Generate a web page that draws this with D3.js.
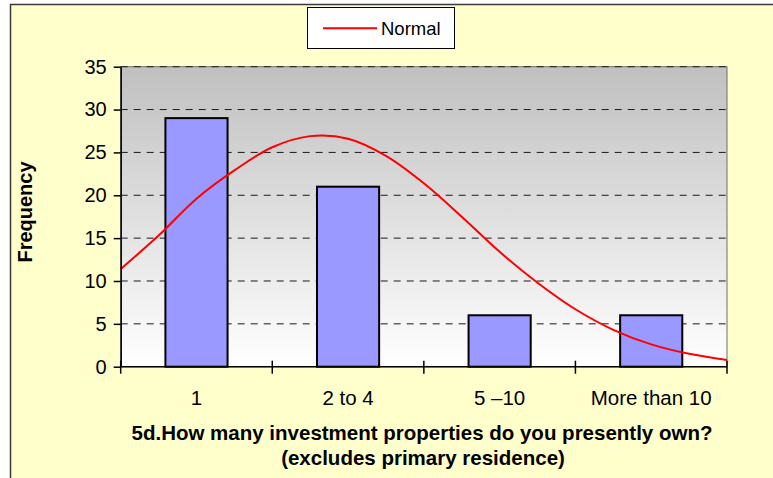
<!DOCTYPE html>
<html>
<head>
<meta charset="utf-8">
<script src="https://cdn.jsdelivr.net/npm/d3@7"></script>
<style>
  html, body { margin: 0; padding: 0; background: #ffffff; }
  svg { display: block; font-family: "Liberation Sans", Arial, sans-serif; }
</style>
</head>
<body>
<svg id="chart" width="773" height="478"></svg>
<script>
// Survey answers and how many respondents gave each
const categories = ["1", "2 to 4", "5 \u201310", "More than 10"];
const frequencies = [29, 21, 6, 6];

// Fitted normal curve, sampled along the category axis (1 = first category centre)
const normalPos = [0.5, 0.75, 1.0, 1.25, 1.5, 1.75, 2.0, 2.25, 2.5,
                   2.75, 3.0, 3.25, 3.5, 3.75, 4.0, 4.25, 4.5];
const normalVals = [11.4, 15.3, 19.6, 22.9, 25.6, 26.9, 26.6, 24.6, 21.4,
                    17.5, 13.4, 9.8, 6.7, 4.3, 2.6, 1.5, 0.78];

const yTicks = [0, 5, 10, 15, 20, 25, 30, 35];

const svg = d3.select("#chart");

// Chart area frame
svg.append("rect")
  .attr("x", 10.5).attr("y", 4.5)
  .attr("width", 800).attr("height", 500)
  .attr("fill", "#FFFFCC")
  .attr("stroke", "#3a3a3a").attr("stroke-width", 1.5);

const plot = { left: 120.7, right: 727, top: 66.7, bottom: 366.7 };

const x = d3.scaleBand()
  .domain(categories)
  .range([plot.left, plot.right])
  .paddingInner(0.59)
  .paddingOuter(0.295);

const xCont = d3.scaleLinear()
  .domain([0.5, categories.length + 0.5])
  .range([plot.left, plot.right]);

const y = d3.scaleLinear()
  .domain([0, 35])
  .range([plot.bottom, plot.top]);

// Plot area gradient
const defs = svg.append("defs");
const grad = defs.append("linearGradient")
  .attr("id", "plotGrad")
  .attr("x1", 0).attr("y1", 0).attr("x2", 0).attr("y2", 1);
grad.append("stop").attr("offset", "0%").attr("stop-color", "#C0C0C0");
grad.append("stop").attr("offset", "100%").attr("stop-color", "#FFFFFF");

svg.append("rect")
  .attr("x", plot.left).attr("y", plot.top)
  .attr("width", plot.right - plot.left)
  .attr("height", plot.bottom - plot.top)
  .attr("fill", "url(#plotGrad)")
  .attr("stroke", "#6e6e6e").attr("stroke-width", 1);

// Dashed gridlines
svg.append("g")
  .selectAll("line")
  .data(yTicks.filter(d => d > 0))
  .join("line")
  .attr("x1", plot.left).attr("x2", plot.right)
  .attr("y1", d => y(d)).attr("y2", d => y(d))
  .attr("stroke", "#1a1a1a")
  .attr("stroke-width", 1)
  .attr("stroke-dasharray", "7,6");

// Bars
svg.append("g")
  .selectAll("rect")
  .data(categories.map((c, i) => ({ c, v: frequencies[i] })))
  .join("rect")
  .attr("x", d => x(d.c))
  .attr("y", d => y(d.v))
  .attr("width", x.bandwidth())
  .attr("height", d => y(0) - y(d.v))
  .attr("fill", "#9999FF")
  .attr("stroke", "#000")
  .attr("stroke-width", 2);

// Normal curve
const line = d3.line()
  .x(d => xCont(d[0]))
  .y(d => y(d[1]))
  .curve(d3.curveCatmullRom.alpha(0.5));

svg.append("path")
  .datum(normalPos.map((p, i) => [p, normalVals[i]]))
  .attr("d", line)
  .attr("fill", "none")
  .attr("stroke", "#FF0000")
  .attr("stroke-width", 2);

// Y axis
const yAxis = svg.append("g")
  .attr("transform", `translate(${plot.left},0)`)
  .call(d3.axisLeft(y).tickValues(yTicks).tickSize(7).tickSizeOuter(0).tickPadding(7));
yAxis.select(".domain").attr("stroke", "#000").attr("stroke-width", 1.5);
yAxis.selectAll(".tick line").attr("stroke", "#000").attr("stroke-width", 1.5);
yAxis.selectAll(".tick text")
  .attr("font-size", 20)
  .attr("font-family", "Liberation Sans, Arial, sans-serif")
  .attr("fill", "#000");

// X axis: ticks at category boundaries, labels at centres
const xAxisG = svg.append("g");
xAxisG.append("line")
  .attr("x1", plot.left).attr("x2", plot.right)
  .attr("y1", plot.bottom).attr("y2", plot.bottom)
  .attr("stroke", "#000").attr("stroke-width", 1.5);
const boundaries = d3.range(categories.length + 1).map(i => i + 0.5);
xAxisG.selectAll("line.tick")
  .data(boundaries)
  .join("line")
  .attr("class", "tick")
  .attr("x1", d => xCont(d)).attr("x2", d => xCont(d))
  .attr("y1", plot.bottom - 6).attr("y2", plot.bottom + 7)
  .attr("stroke", "#000").attr("stroke-width", 1.5);
xAxisG.selectAll("text")
  .data(categories)
  .join("text")
  .attr("x", d => x(d) + x.bandwidth() / 2)
  .attr("y", 404.5)
  .attr("text-anchor", "middle")
  .attr("font-size", 20.5)
  .attr("fill", "#000")
  .text(d => d);

// Axis titles
svg.append("text")
  .attr("transform", "translate(32,212) rotate(-90)")
  .attr("text-anchor", "middle")
  .attr("font-size", 20)
  .attr("font-weight", "bold")
  .attr("fill", "#000")
  .text("Frequency");

const xTitle = svg.append("text")
  .attr("text-anchor", "middle")
  .attr("font-size", 20.5)
  .attr("font-weight", "bold")
  .attr("fill", "#000");
xTitle.append("tspan")
  .attr("x", 422).attr("y", 440)
  .text("5d.How many investment properties do you presently own?");
xTitle.append("tspan")
  .attr("x", 423).attr("y", 465)
  .text("(excludes primary residence)");

// Legend
const legend = svg.append("g");
legend.append("rect")
  .attr("x", 307.5).attr("y", 7.5)
  .attr("width", 147).attr("height", 41)
  .attr("fill", "#fff")
  .attr("stroke", "#000").attr("stroke-width", 1);
legend.append("line")
  .attr("x1", 323).attr("x2", 377)
  .attr("y1", 28.3).attr("y2", 28.3)
  .attr("stroke", "#FF0000").attr("stroke-width", 2);
legend.append("text")
  .attr("x", 381).attr("y", 34.5)
  .attr("font-size", 18.5)
  .attr("fill", "#000")
  .text("Normal");
</script>
</body>
</html>
